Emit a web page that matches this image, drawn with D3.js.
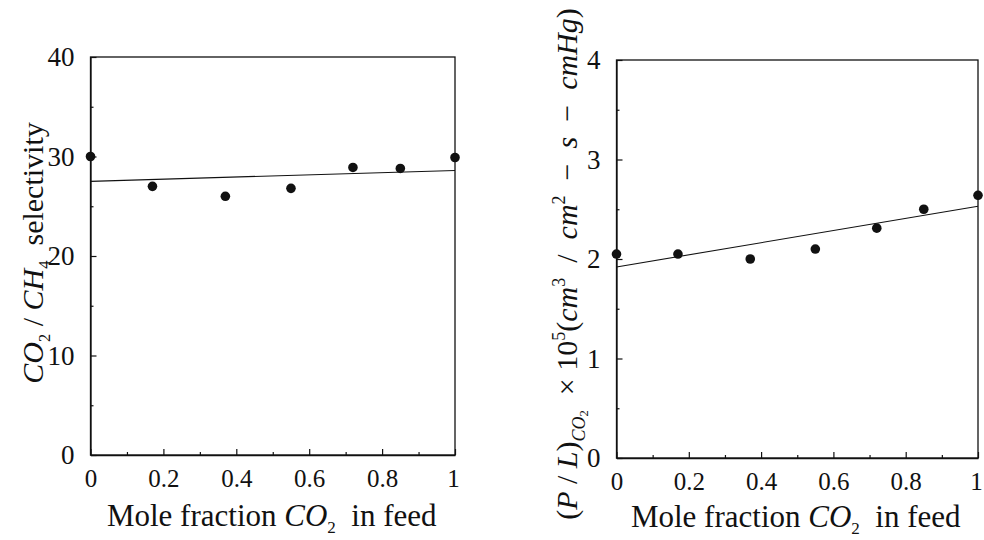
<!DOCTYPE html>
<html>
<head>
<meta charset="utf-8">
<script src="https://cdn.jsdelivr.net/npm/d3@7"></script>
<style>
    body { margin: 0; background: #fff; }
    text { font-family: "Liberation Serif", "DejaVu Serif", serif; fill: #111; }
    .domain { stroke: #111; stroke-width: 1.3; }
    .tick line { stroke: #111; stroke-width: 1.2; }
</style>
</head>
<body>
<script>
//feed composition (mole fraction CO2) for each run
var moleFraction = [0, 0.17, 0.37, 0.55, 0.72, 0.85, 1.0];
//CO2/CH4 selectivity at each composition
var selectivity = [30.0, 27.0, 26.0, 26.8, 28.9, 28.8, 29.9];
//CO2 permeance x 10^5 at each composition
var permeance = [2.05, 2.05, 2.0, 2.1, 2.31, 2.5, 2.64];
//straight fit lines, values at x = 0 and x = 1
var fitX = [0, 1];
var selectivityFit = [27.5, 28.6];
var permeanceFit = [1.92, 2.53];
//tick values
var xTicks = [0, 0.2, 0.4, 0.6, 0.8, 1];
var xMinor = [0.1, 0.3, 0.5, 0.7, 0.9];
var selTicks = [0, 10, 20, 30, 40];
var selMinor = [5, 15, 25, 35];
var permTicks = [0, 1, 2, 3, 4];
var permMinor = [0.5, 1.5, 2.5, 3.5];

window.onload = setPage();

function setPage(){
    var svg = d3.select("body")
        .append("svg")
        .attr("width", 984)
        .attr("height", 540);

    //left panel: selectivity
    drawPanel(svg, {
        x0: 90.5, x1: 455, yTop: 57, yBottom: 455,
        yDomain: [0, 40], yTicks: selTicks, yMinor: selMinor,
        values: selectivity, fit: selectivityFit
    });

    //right panel: permeance
    drawPanel(svg, {
        x0: 616.5, x1: 978, yTop: 60, yBottom: 458,
        yDomain: [0, 4], yTicks: permTicks, yMinor: permMinor,
        values: permeance, fit: permeanceFit
    });

    xTitle(svg, (90.5 + 455) / 2 - 1, 526);
    xTitle(svg, (616.5 + 979) / 2 - 2, 527);

    //left y title
    var lt = svg.append("text")
        .attr("transform", "translate(43," + 253 + ") rotate(-90)")
        .attr("text-anchor", "middle")
        .style("font-size", "30px");
    addRuns(lt, [
        ["CO", "it"], ["2", "sub"], [" / ", ""], ["CH", "it"], ["4", "sub"], ["  selectivity", ""]
    ], 30);

    //right y title
    var rt = svg.append("text")
        .attr("transform", "translate(577," + 264 + ") rotate(-90)")
        .attr("text-anchor", "middle")
        .style("font-size", "30px");
    addRuns(rt, [
        ["(", ""], ["P", "it"], [" / ", ""], ["L", "it"], [")", ""], ["CO", "subit"], ["2", "subsub"],
        ["  \u00d7 10", ""], ["5", "sup"], ["(", ""], ["cm", "it"], ["3", "sup"], ["  /  ", ""],
        ["cm", "it"], ["2", "sup"], ["  \u2212  ", ""], ["s", "it"], ["  \u2212  ", ""], ["cmHg", "it"], [")", ""]
    ], 30);
};

function drawPanel(svg, p){
    var x = d3.scaleLinear().domain([0, 1]).range([p.x0, p.x1]);
    var y = d3.scaleLinear().domain(p.yDomain).range([p.yBottom, p.yTop]);

    //frame
    svg.append("rect")
        .attr("x", p.x0)
        .attr("y", p.yTop)
        .attr("width", p.x1 - p.x0)
        .attr("height", p.yBottom - p.yTop)
        .attr("fill", "none")
        .attr("stroke", "#111")
        .attr("stroke-width", 1.3);

    //bottom axis, ticks inward
    var xAxis = d3.axisBottom(x)
        .tickValues(xTicks)
        .tickSizeInner(-6)
        .tickSizeOuter(0)
        .tickPadding(14)
        .tickFormat(function(d){ return d === 0 ? "0" : d === 1 ? "1" : d3.format(".1f")(d); });
    var gx = svg.append("g")
        .attr("class", "axis")
        .attr("transform", "translate(0," + p.yBottom + ")")
        .call(xAxis);
    gx.selectAll("text").style("font-size", "25px").attr("fill", "#111");
    //keep the last label inside the page
    gx.selectAll(".tick text").filter(function(d){ return d === 1; }).attr("dx", "-2");

    svg.append("g")
        .attr("transform", "translate(0," + p.yBottom + ")")
        .call(d3.axisBottom(x).tickValues(xMinor).tickSize(-3).tickFormat(""))
        .select(".domain").remove();

    //left axis, ticks inward
    var yAxis = d3.axisLeft(y)
        .tickValues(p.yTicks)
        .tickSizeInner(-6)
        .tickSizeOuter(0)
        .tickPadding(16)
        .tickFormat(d3.format("d"));
    var gy = svg.append("g")
        .attr("class", "axis")
        .attr("transform", "translate(" + p.x0 + ",0)")
        .call(yAxis);
    gy.selectAll("text").style("font-size", "27px").attr("fill", "#111");

    svg.append("g")
        .attr("transform", "translate(" + p.x0 + ",0)")
        .call(d3.axisLeft(y).tickValues(p.yMinor).tickSize(-3).tickFormat(""))
        .select(".domain").remove();

    //fit line
    var line = d3.line()
        .x(function(d, i){ return x(fitX[i]); })
        .y(function(d){ return y(d); });
    svg.append("path")
        .datum(p.fit)
        .attr("d", line)
        .attr("fill", "none")
        .attr("stroke", "#111")
        .attr("stroke-width", 1.1);

    //data points
    svg.selectAll(null)
        .data(p.values)
        .enter()
        .append("circle")
        .attr("cx", function(d, i){ return x(moleFraction[i]); })
        .attr("cy", function(d){ return y(d); })
        .attr("r", 4.8)
        .attr("fill", "#111");
};

function xTitle(svg, cx, cy){
    var t = svg.append("text")
        .attr("x", cx)
        .attr("y", cy)
        .attr("text-anchor", "middle")
        .style("font-size", "31px");
    addRuns(t, [["Mole fraction ", ""], ["CO", "it"], ["2", "sub"], ["  in feed", ""]], 31);
};

//append styled tspans (italic, sub, superscript) to a text element
function addRuns(text, runs, size){
    var shift = 0;
    runs.forEach(function(r){
        var kind = r[1], fs = size, dy = 0, style = "normal";
        if (kind == "it") { style = "italic"; }
        if (kind == "sub") { fs = size * 0.55; dy = size * 0.22; }
        if (kind == "subit") { fs = size * 0.6; dy = size * 0.28; style = "italic"; }
        if (kind == "subsub") { fs = size * 0.42; dy = size * 0.38; }
        if (kind == "sup") { fs = size * 0.6; dy = -size * 0.4; }
        text.append("tspan")
            .attr("dy", dy - shift)
            .style("font-size", fs + "px")
            .style("font-style", style)
            .style("white-space", "pre")
            .text(r[0]);
        shift = dy;
    });
};
</script>
</body>
</html>
